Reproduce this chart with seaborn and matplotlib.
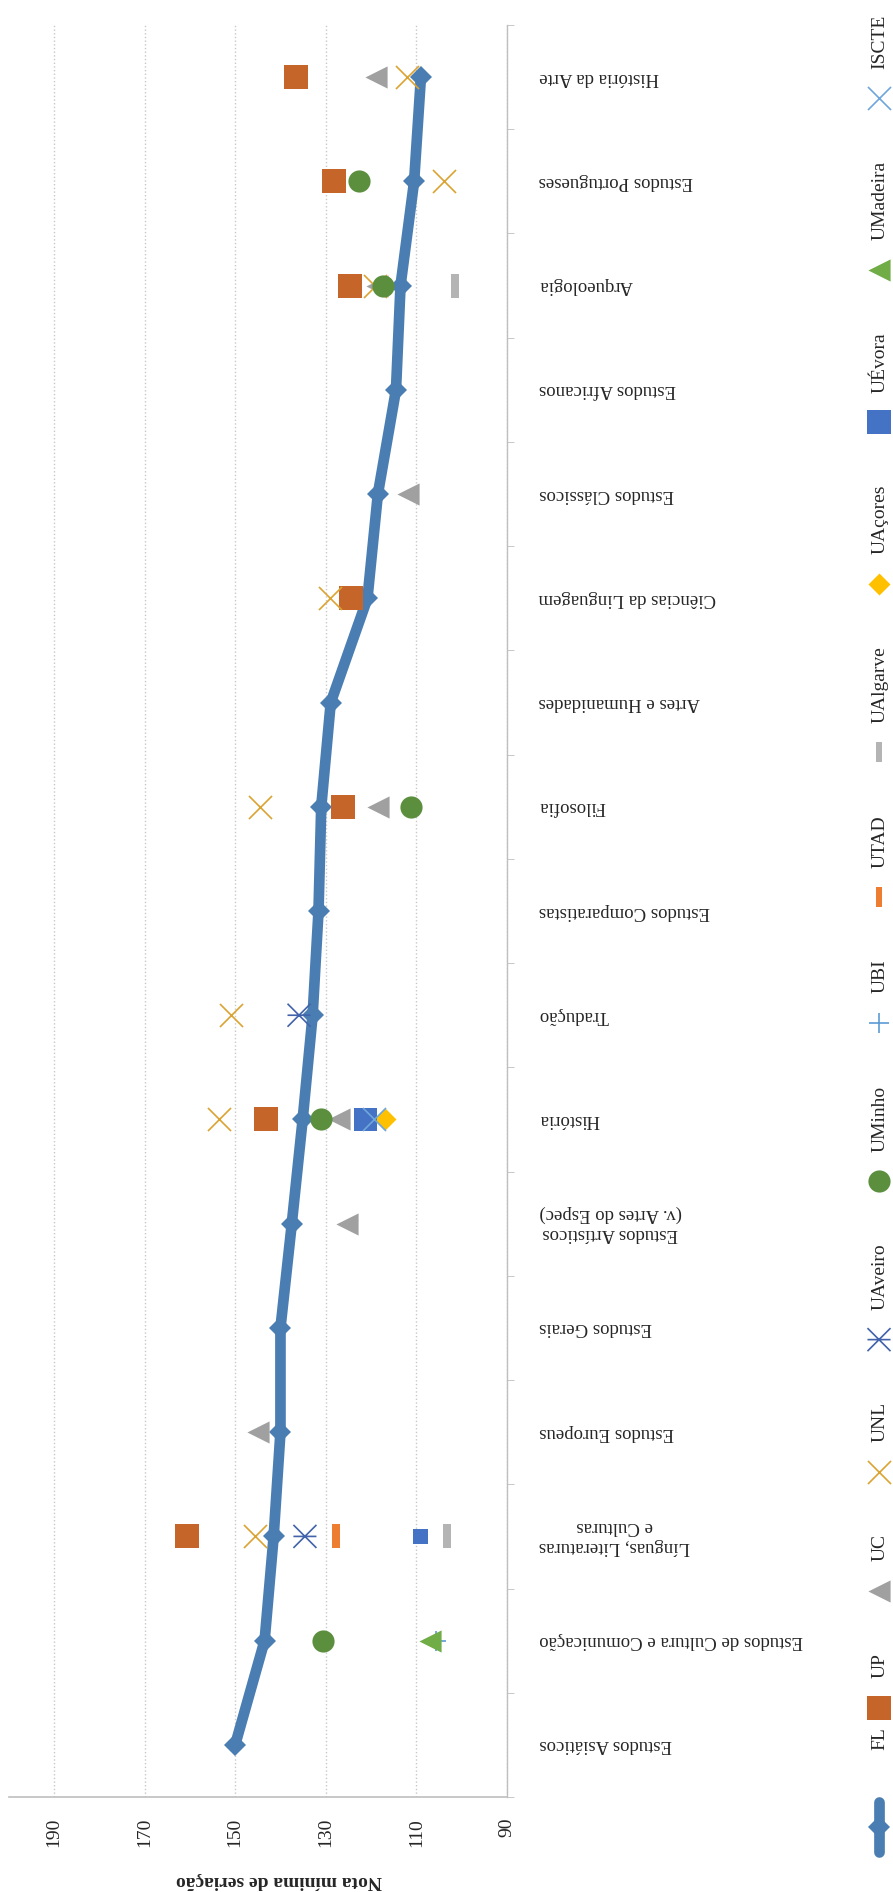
import matplotlib
matplotlib.use("Agg")
import matplotlib.pyplot as plt
from matplotlib.path import Path
import seaborn as sns

# categorias (de baixo para cima)
categories = ["Estudos Asiáticos", "Estudos de Cultura e Comunicação",
              "Línguas, Literaturas\ne Culturas", "Estudos Europeus", "Estudos Gerais",
              "Estudos Artísticos\n(v. Artes do Espec)", "História", "Tradução",
              "Estudos Comparatistas", "Filosofia", "Artes e Humanidades",
              "Ciências da Linguagem", "Estudos Clássicos", "Estudos Africanos",
              "Arqueologia", "Estudos Portugueses", "História da Arte"]
LLC = "Línguas, Literaturas\ne Culturas"
EAR = "Estudos Artísticos\n(v. Artes do Espec)"

fl_vals = [150.0, 143.5, 141.5, 140.0, 140.0, 137.5, 135.1, 132.9, 131.6, 131.0,
           128.9, 120.8, 118.5, 114.5, 113.5, 110.5, 109.0]

up_cats = [LLC, "História", "Filosofia", "Ciências da Linguagem", "Arqueologia",
           "Estudos Portugueses", "História da Arte"]
up_vals = [160.7, 143.3, 126.1, 124.5, 124.6, 128.1, 136.5]

uc_cats = ["Estudos Europeus", EAR, "História", "Filosofia", "Estudos Clássicos",
           "Arqueologia", "História da Arte"]
uc_vals = [144.9, 125.4, 127.1, 118.5, 111.9, 118.8, 118.9]

unl_cats = [LLC, "História", "Tradução", "Filosofia", "Ciências da Linguagem",
            "Arqueologia", "Estudos Portugueses", "História da Arte"]
unl_vals = [145.6, 153.5, 151.0, 144.6, 129.1, 119.1, 104.0, 112.0]

uaveiro_cats = [LLC, "Tradução"]
uaveiro_vals = [134.6, 135.9]

uminho_cats = ["Estudos de Cultura e Comunicação", "História", "Filosofia",
               "Arqueologia", "Estudos Portugueses"]
uminho_vals = [130.6, 131.1, 111.2, 117.4, 122.6]

ubi_cats = ["Estudos de Cultura e Comunicação"]
ubi_vals = [105.6]

utad_cats = [LLC]
utad_vals = [127.8]

ualgarve_cats = [LLC, "Arqueologia"]
ualgarve_vals = [103.3, 101.5]

uacores_cats = ["História"]
uacores_vals = [116.9]

uevora_cats = [LLC, "História"]
uevora_vals = [109.1, 121.2]

umadeira_cats = ["Estudos de Cultura e Comunicação"]
umadeira_vals = [106.9]

iscte_cats = ["História"]
iscte_vals = [119.4]

value_ticks = [190, 170, 150, 130, 110, 90]

# marcadores especiais
star = Path([(-0.5, -0.5), (0.5, 0.5), (-0.5, 0.5), (0.5, -0.5), (-0.5, 0), (0.5, 0)],
            [Path.MOVETO, Path.LINETO, Path.MOVETO, Path.LINETO, Path.MOVETO, Path.LINETO])
bar = [(-0.17, -0.5), (0.17, -0.5), (0.17, 0.5), (-0.17, 0.5)]

fl_color = "#4A7EB3"
# nome, categorias, valores, marcador, cor, tamanho, tipo
series = [
    ("UP", up_cats, up_vals, "s", "#C5652A", 275, "fill"),
    ("UC", uc_cats, uc_vals, "<", "#A0A0A0", 255, "fill"),
    ("UNL", unl_cats, unl_vals, "x", "#DAA332", 275, "line"),
    ("UAveiro", uaveiro_cats, uaveiro_vals, star, "#4263AB", 275, "path"),
    ("UMinho", uminho_cats, uminho_vals, "o", "#5B8F3E", 255, "fill"),
    ("UBI", ubi_cats, ubi_vals, "+", "#5B9BD5", 210, "line"),
    ("UTAD", utad_cats, utad_vals, bar, "#ED7D31", 275, "fill"),
    ("UAlgarve", ualgarve_cats, ualgarve_vals, bar, "#B4B4B4", 275, "fill"),
    ("UAçores", uacores_cats, uacores_vals, "D", "#FFC000", 125, "fill"),
    ("UÉvora", uevora_cats, uevora_vals, "s", "#4472C4", [120, 275], "fill"),
    ("UMadeira", umadeira_cats, umadeira_vals, "<", "#70AD47", 255, "fill"),
    ("ISCTE", iscte_cats, iscte_vals, "x", "#6FA6DB", 275, "line"),
]


def draw_marker(target, xs, ys, marker, color, size, kind, use_sns=True):
    if kind == "fill":
        kw = dict(marker=marker, s=size, color=color, edgecolor=color, linewidth=0)
    elif kind == "line":
        kw = dict(marker=marker, s=size, color=color, linewidth=1.2)
    else:
        kw = dict(marker=marker, s=size, facecolor="none", edgecolor=color, linewidth=1.2)
    if use_sns:
        sns.scatterplot(x=xs, y=ys, ax=target, zorder=4, **kw)
    else:
        target.scatter(xs, ys, **kw)


sns.set_style("white")
plt.rcParams["font.family"] = ["Liberation Serif", "DejaVu Serif"]

W, H = 893, 1892
fig = plt.figure(figsize=(W / 100, H / 100), dpi=100)
x0, x1, ytop, ybot = 8.6, 507.0, 25.0, 1797.0
ax = fig.add_axes([x0 / W, (H - ybot) / H, (x1 - x0) / W, (ybot - ytop) / H])

cat_idx = list(range(len(categories)))
sns.lineplot(x=fl_vals, y=cat_idx, orient="y", ax=ax, color=fl_color, linewidth=7.7,
             marker="D", markersize=11, markeredgewidth=0, errorbar=None,
             solid_joinstyle="round", solid_capstyle="round", zorder=3)

for name, cats, vals, marker, color, size, kind in series:
    ys = [categories.index(c) for c in cats]
    draw_marker(ax, vals, ys, marker, color, size, kind)

ax.set_xlim(200, 90)
ax.set_ylim(-0.5, len(categories) - 0.5)
ax.set_xticks(value_ticks)
ax.set_xticklabels([str(v) for v in value_ticks], rotation=90, fontsize=14)
ax.tick_params(axis="x", length=4, color="#BFBFBF", pad=11)

ax.yaxis.tick_right()
ax.set_yticks(cat_idx)
ax.set_yticklabels(categories, rotation=180, fontsize=13.5, ha="left", va="center",
                   multialignment="center")
ax.set_yticks([i - 0.5 for i in range(len(categories) + 1)], minor=True)
ax.tick_params(axis="y", which="major", length=0, pad=23)
ax.tick_params(axis="y", which="minor", length=5, color="#BFBFBF", direction="out",
               right=True, left=False)

ax.grid(axis="x", linestyle=":", color="#C8C8C8", linewidth=1)
ax.grid(axis="y", visible=False)
for s in ["top", "left"]:
    ax.spines[s].set_visible(False)
ax.spines["bottom"].set_color("#BFBFBF")
ax.spines["bottom"].set_linewidth(1.2)
ax.spines["right"].set_color("#BFBFBF")
ax.spines["right"].set_linewidth(1.0)

ax.set_xlabel("Nota mínima de seriação", fontsize=14, fontweight="bold", rotation=180,
              va="center")
ax.xaxis.set_label_coords((279 - x0) / (x1 - x0), -(1880 - ybot) / (ybot - ytop))
ax.set_ylabel("")

# legenda (rodada, de baixo para cima)
lax = fig.add_axes([0, 0, 1, 1])
lax.set_xlim(0, W)
lax.set_ylim(H, 0)
lax.axis("off")
renderer = fig.canvas.get_renderer()
lx = 879
cursor = 1852.0
lax.plot([lx, lx], [cursor - 50, cursor], color=fl_color, lw=7.7, solid_capstyle="round")
lax.plot([lx], [cursor - 25], marker="D", ms=11, color=fl_color, mew=0)
cursor -= 50 + 52
t = lax.text(lx + 1, cursor, "FL", rotation=90, ha="center", va="bottom", fontsize=14)
cursor -= t.get_window_extent(renderer).height + 8
for name, cats, vals, marker, color, size, kind in series:
    s = 275 if isinstance(size, list) else size
    if name in ("UAlgarve", "UTAD"):
        s = 200
    draw_marker(lax, [lx], [cursor - 11.5], marker, color, s, kind, use_sns=False)
    cursor -= 23 + 18
    t = lax.text(lx + 1, cursor, name, rotation=90, ha="center", va="bottom", fontsize=14)
    cursor -= t.get_window_extent(renderer).height + 51

fig.savefig("out.png", dpi=100)
